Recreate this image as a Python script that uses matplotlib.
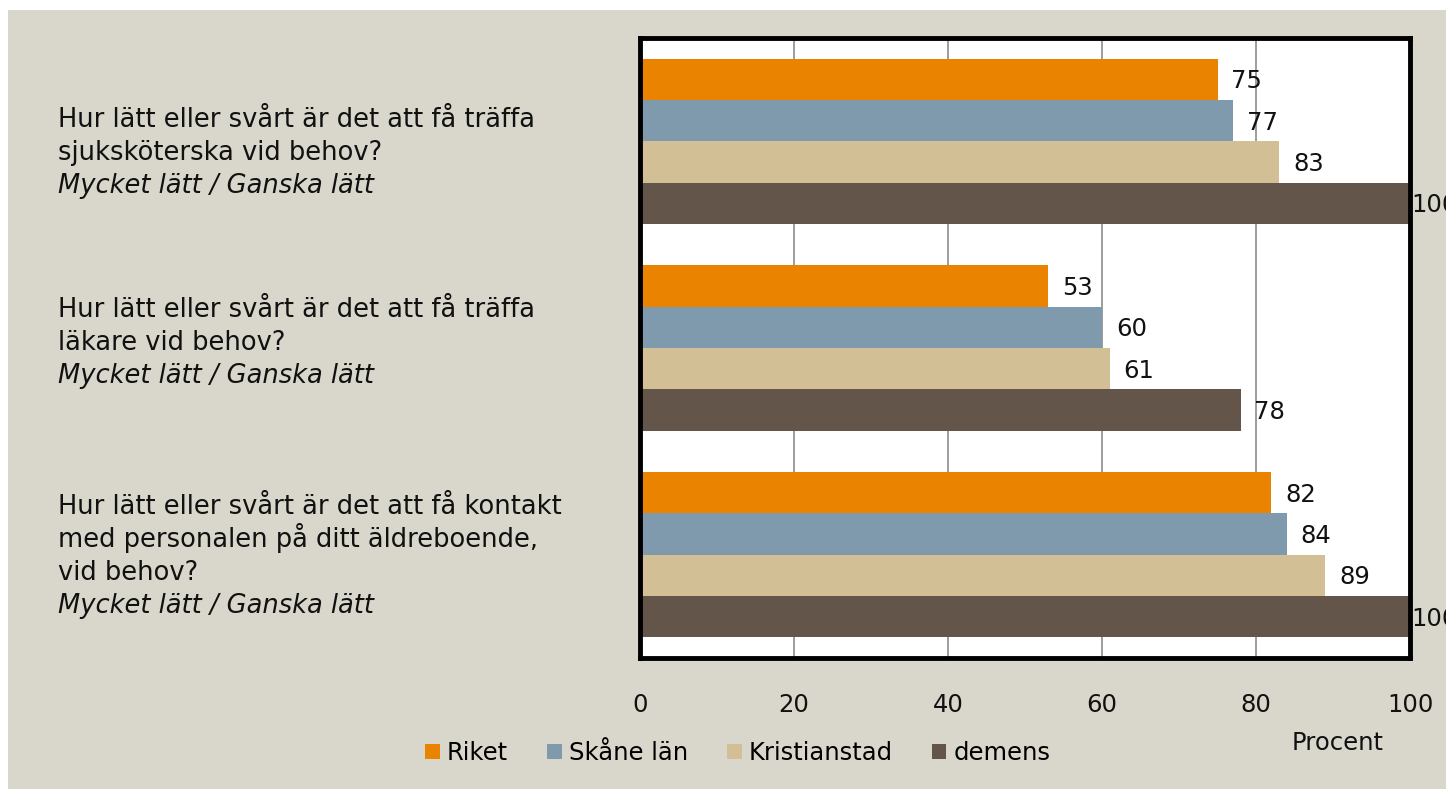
import matplotlib.pyplot as plt
from matplotlib.patches import Patch, Rectangle

series = ['Riket', 'Skåne län', 'Kristianstad', 'demens']
colors = ['#E98300', '#7F9AAC', '#D3BF96', '#64554A']

questions = [
    ['Hur lätt eller svårt är det att få träffa', 'sjuksköterska vid behov?'],
    ['Hur lätt eller svårt är det att få träffa', 'läkare vid behov?'],
    ['Hur lätt eller svårt är det att få kontakt', 'med personalen på ditt äldreboende,', 'vid behov?'],
]
answer_note = 'Mycket lätt / Ganska lätt'

riket = [75, 53, 82]
skane = [77, 60, 84]
kristianstad = [83, 61, 89]
demens = [100, 78, 100]
values = [riket, skane, kristianstad, demens]

xticks = [0, 20, 40, 60, 80, 100]

plt.rcParams['font.family'] = ['DejaVu Sans']
bg = '#D9D7CB'
fs = 17.5
tc = '#111111'

W, H = 1446, 789
fig = plt.figure(figsize=(W / 100, H / 100), dpi=100, facecolor='white')
fig.patches.append(Rectangle((8 / W, 0), 1, 1 - 10 / H, transform=fig.transFigure,
                             facecolor=bg, edgecolor='none', zorder=-10))

ax = fig.add_axes([640 / W, 1 - 658 / H, (1410 - 640) / W, (658 - 38) / H])
ax.set_facecolor('white')

bar_h = 0.2
for s, (name, vals, col) in enumerate(zip(series, values, colors)):
    ys = [g - 0.3 + s * bar_h for g in range(len(vals))]
    ax.barh(ys, vals, height=bar_h, color=col, label=name, zorder=3)
    for y, v in zip(ys, vals):
        # labels at the axis end sit tight against the frame
        dx = 1 if v >= 100 else 10
        ax.annotate(str(v), xy=(v, y), xytext=(dx, -1.5), textcoords='offset points',
                    va='center', ha='left', fontsize=fs, color=tc,
                    annotation_clip=False, zorder=5)

ax.set_xlim(0, 100)
ax.set_ylim(2.5, -0.5)
ax.set_yticks([])
ax.set_xticks(xticks)
ax.set_xticklabels([str(t) for t in xticks], fontsize=fs, color=tc)
ax.tick_params(axis='x', length=0, pad=25)
ax.grid(axis='x', color='#8c8c8c', linewidth=1.2, zorder=1)
for sp in ax.spines.values():
    sp.set_linewidth(3.5)
    sp.set_color('black')
    sp.set_zorder(4)

# category labels on the left (baseline of first line, px from top)
first_base = [127, 317, 514]
line_px = 33
for lines, y0 in zip(questions, first_base):
    allines = lines + [answer_note]
    for i, txt in enumerate(allines):
        fig.text(58 / W, 1 - (y0 + i * line_px) / H, txt, ha='left', va='baseline',
                 fontsize=18.5, color=tc,
                 style='italic' if i == len(allines) - 1 else 'normal')

fig.text(1338 / W, 1 - 743 / H, 'Procent', ha='center', va='center', fontsize=fs, color=tc)

handles = [Patch(facecolor=c, label=n) for n, c in zip(series, colors)]
fig.legend(handles=handles, loc='center', bbox_to_anchor=(738 / W, 1 - 753 / H), ncol=4,
           frameon=False, fontsize=fs, handlelength=0.6, handleheight=0.6,
           handletextpad=0.3, columnspacing=1.6)

fig.savefig('out.png', dpi=100, facecolor='white')
